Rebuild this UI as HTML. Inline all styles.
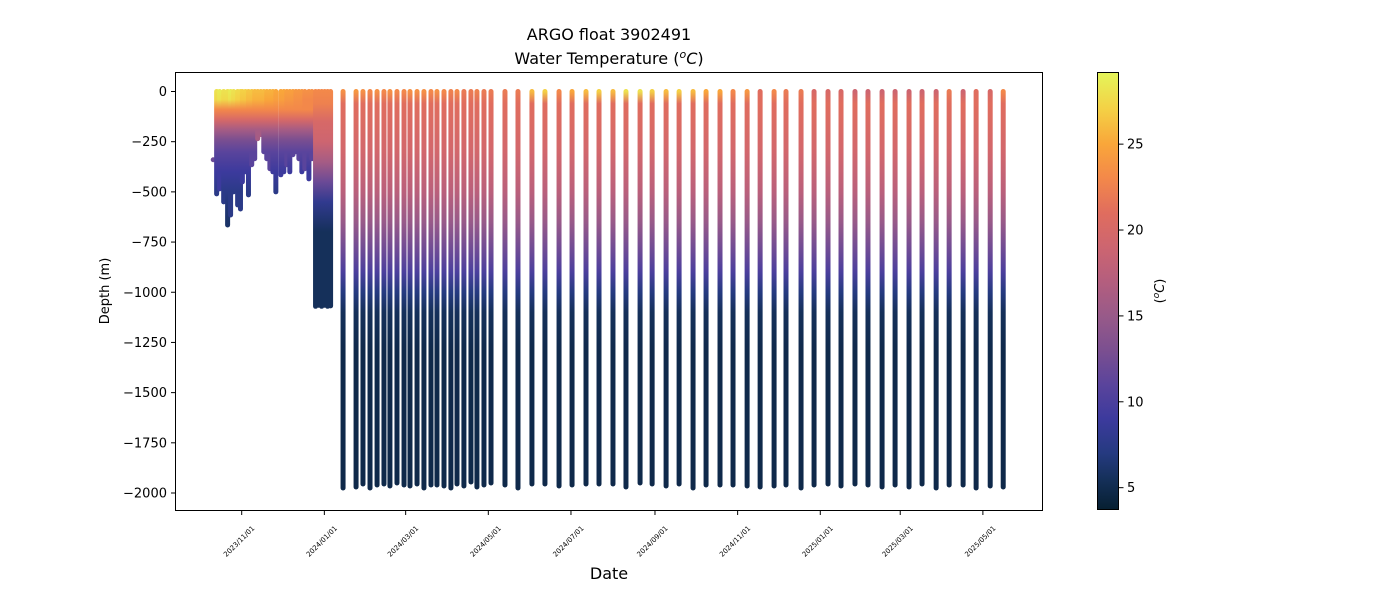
<!DOCTYPE html>
<html><head><meta charset="utf-8"><style>
html,body{margin:0;padding:0;background:#fff;}
svg text{font-family:"DejaVu Sans","Liberation Sans",sans-serif;}
</style></head><body>
<svg id="chart" width="1400" height="600" viewBox="0 0 1400 600" xmlns="http://www.w3.org/2000/svg">
<defs id="defs"></defs>
<text x="609" y="40" font-size="16" text-anchor="middle">ARGO float 3902491</text>
<text x="609" y="64" font-size="16" text-anchor="middle">Water Temperature (<tspan font-style="italic" dy="-6" font-size="11">o</tspan><tspan font-style="italic" dy="6">C</tspan>)</text>
<g id="plot"></g>
<rect x="175.5" y="72.5" width="867" height="438" fill="none" stroke="#000" stroke-width="1"/>
<g id="yaxis"></g>
<g id="xaxis"></g>
<text transform="translate(109,291) rotate(-90)" font-size="13" text-anchor="middle">Depth (m)</text>
<text x="609" y="579" font-size="16" text-anchor="middle">Date</text>
<rect x="1097" y="72" width="22" height="438" fill="url(#cbgrad)"/>
<rect x="1097.5" y="72.5" width="21" height="437" fill="none" stroke="#000"/>
<g id="cbaxis"></g>
<text transform="translate(1164,291) rotate(-90)" font-size="13" text-anchor="middle">(<tspan font-style="italic" dy="-5" font-size="9">o</tspan><tspan font-style="italic" dy="5">C</tspan>)</text>
</svg>
<script>
// ---- data ----
const yTicks=[0,-250,-500,-750,-1000,-1250,-1500,-1750,-2000];
const xTickLabels=["2023/11/01","2024/01/01","2024/03/01","2024/05/01","2024/07/01","2024/09/01","2024/11/01","2025/01/01","2025/03/01","2025/05/01"];
const xTickDays=[0,61,121,182,243,305,366,427,486,547];
const cbTicks=[5,10,15,20,25];
// early profiles: day offset from 2023-11-01, max depth (m), surface temp
const earlyDays=[-18.5,-16.3,-13.3,-10.4,-8.2,-6,-3,-0.9,0.5,2.8,5,7.4,9.6,11.8,14.1,16.3,18.5,20.8,23,25.2,28.9,31.1,33.3,35.5,37.8,40,42.2,44.4,46.6,49.6,51.8];
const earlyDepth=[510,485,550,665,615,500,565,585,450,400,515,365,335,235,215,300,335,385,400,500,415,400,365,400,315,300,335,400,385,435,335];
const earlySurf=[28,28.5,28,28,28.5,28,27.5,27.5,27,27,26.5,26.5,26,26,26,26,25.5,25.5,25.5,25,25,25,24.5,24.5,24.5,24,24,24,23.5,23.5,23.5];
const deepEarlyDays=[54.5,56.8,59,61.2,63.4,65.6];
const deepEarlyDepth=[1070,1065,1070,1065,1070,1068];
const lateDays=[74.8,84.4,89.5,94.7,99.9,105.0,109.4,114.6,119.8,124.2,129.4,134.5,139.7,144.1,149.3,154.4,158.9,164.0,169.2,173.6,178.8,184.0,194.3,203.9,214.2,223.8,234.2,243.8,254.1,263.7,274.0,283.6,294.0,302.9,313.2,322.8,333.1,342.7,353.0,362.6,373.0,382.6,392.9,401.7,412.8,422.4,432.7,442.3,452.6,462.2,472.6,482.2,492.5,502.1,512.5,522.1,532.4,542.0,552.4,562.0];
const lateDepth=[1975,1970,1955,1975,1960,1955,1965,1950,1960,1965,1955,1975,1960,1960,1965,1975,1955,1965,1945,1970,1960,1950,1960,1975,1955,1955,1965,1960,1955,1955,1955,1970,1950,1955,1965,1955,1975,1960,1960,1960,1965,1970,1965,1960,1975,1960,1955,1965,1955,1960,1970,1960,1970,1955,1975,1960,1960,1975,1965,1970];
const lateSurf=[23.5,24,23.5,23,23.5,23,23.5,23,23,23.5,23.5,23.5,23,23.5,23,22.5,23,22,22,22.5,22,22,22,22,26,27,23,25,26,27,26,28,28,27,26,27,26,25,25,23,24,21,23,22,22,20,20,20,19,19,19,19,19,19,19,22,19,21,20,23];
// temperature vs depth tables
const earlyTabDepth=[0,40,90,140,190,240,300,400,500,650,800,1100];
const earlyTabTemp=[0,0,23,20,16,13,11,9,7.5,6,5,4.3]; // index0/1 replaced by surface temp
const lateTabDepth=[0,60,150,300,500,650,800,900,1000,1100,1300,2000];
const lateTabTemp=[0,21,20.5,19.5,17.5,15,12,10,7,5.5,4.8,3.8];
const cmapVals=[3.7,5.5,7,9,11,13,15,17,19,21,23,25,27,29.2];
const cmapCols=["#061f30","#15305a","#253a80","#3c3a9d","#5a449c","#7b4f90","#985a89","#b45e7e","#cd6570","#e06d5e","#f3884a","#f9a63a","#f4d045","#e4f65a"];

// ---- scales ----
const NS="http://www.w3.org/2000/svg";
const y0=91.5, yPer=(493-91.5)/2000;
const X=d=>241.7+d*1.355;
const Y=v=>y0-v*yPer;
const tMin=3.7,tMax=29.2;
const cbY=t=>510-(t-tMin)/(tMax-tMin)*438;
function mk(tag,attrs,parent){const e=document.createElementNS(NS,tag);for(const k in attrs)e.setAttribute(k,attrs[k]);parent.appendChild(e);return e;}
function hex(c){return [1,3,5].map(i=>parseInt(c.substr(i,2),16));}
function color(t){
  if(t<=cmapVals[0])return cmapCols[0];
  for(let i=1;i<cmapVals.length;i++){if(t<=cmapVals[i]){const f=(t-cmapVals[i-1])/(cmapVals[i]-cmapVals[i-1]);const a=hex(cmapCols[i-1]),b=hex(cmapCols[i]);return "rgb("+a.map((v,j)=>Math.round(v+(b[j]-v)*f)).join(",")+")";}}
  return cmapCols[cmapCols.length-1];
}
const defs=document.getElementById('defs');
const cg=mk('linearGradient',{id:'cbgrad',x1:0,y1:1,x2:0,y2:0},defs);
cmapVals.forEach((v,i)=>mk('stop',{offset:(v-tMin)/(tMax-tMin),'stop-color':cmapCols[i]},cg));

const plot=document.getElementById('plot');
let gid=0;
function profile(day,depth,tabD,tabT,surf,name){
  const id='pg'+(gid++);
  const top=Y(0),bot=Y(-depth);
  const g=mk('linearGradient',{id:id,gradientUnits:'userSpaceOnUse',x1:0,y1:top,x2:0,y2:bot},defs);
  for(let i=0;i<tabD.length;i++){
    if(tabD[i]>depth && i>0){break;}
    let t=(i===0)?surf:(tabT[i]===0?surf-0.5:tabT[i]);
    mk('stop',{offset:Math.min(1,tabD[i]/depth),'stop-color':color(t)},g);
  }
  const ln=mk('line',{x1:X(day),x2:X(day),y1:top,y2:bot,stroke:'url(#'+id+')','stroke-width':5,'stroke-linecap':'round'},plot);
  
  
}
const dot=mk('circle',{cx:X(-21),cy:Y(-340),r:2.5,fill:color(12)},plot);


earlyDays.forEach((d,i)=>profile(d,earlyDepth[i],earlyTabDepth,earlyTabTemp,earlySurf[i],'profile-early'));
deepEarlyDays.forEach((d,i)=>profile(d,deepEarlyDepth[i],[0,60,150,250,350,450,550,700,1100],[0,0,20,19,16,12,8,5.5,4.5],23,'profile-deep-early'));
lateDays.forEach((d,i)=>profile(d,lateDepth[i],lateTabDepth,lateTabTemp,lateSurf[i],'profile'));

const ya=document.getElementById('yaxis');
yTicks.forEach(v=>{
  const l=mk('line',{x1:171,x2:175.5,y1:Y(v),y2:Y(v),stroke:'#000'},ya);
  
  
  const t=mk('text',{x:167,y:Y(v)+4.5,'font-size':13,'text-anchor':'end'},ya);
  t.textContent=(v<0?'\u2212'+(-v):v);
  
  
});
const xa=document.getElementById('xaxis');
xTickLabels.forEach((s,i)=>{
  const x=X(xTickDays[i]);
  const l=mk('line',{x1:x,x2:x,y1:510.5,y2:515,stroke:'#000'},xa);
  
  
  const t=mk('text',{transform:'translate('+(x-1)+',543) rotate(-45)','font-size':7,'text-anchor':'middle'},xa);
  t.textContent=s;
  
  
});
const ca=document.getElementById('cbaxis');
cbTicks.forEach(v=>{
  const y=cbY(v);
  const l=mk('line',{x1:1119,x2:1123.5,y1:y,y2:y,stroke:'#000'},ca);
  
  
  const t=mk('text',{x:1127,y:y+4.5,'font-size':13},ca);
  t.textContent=v;
  
  
});
</script>
</body></html>
